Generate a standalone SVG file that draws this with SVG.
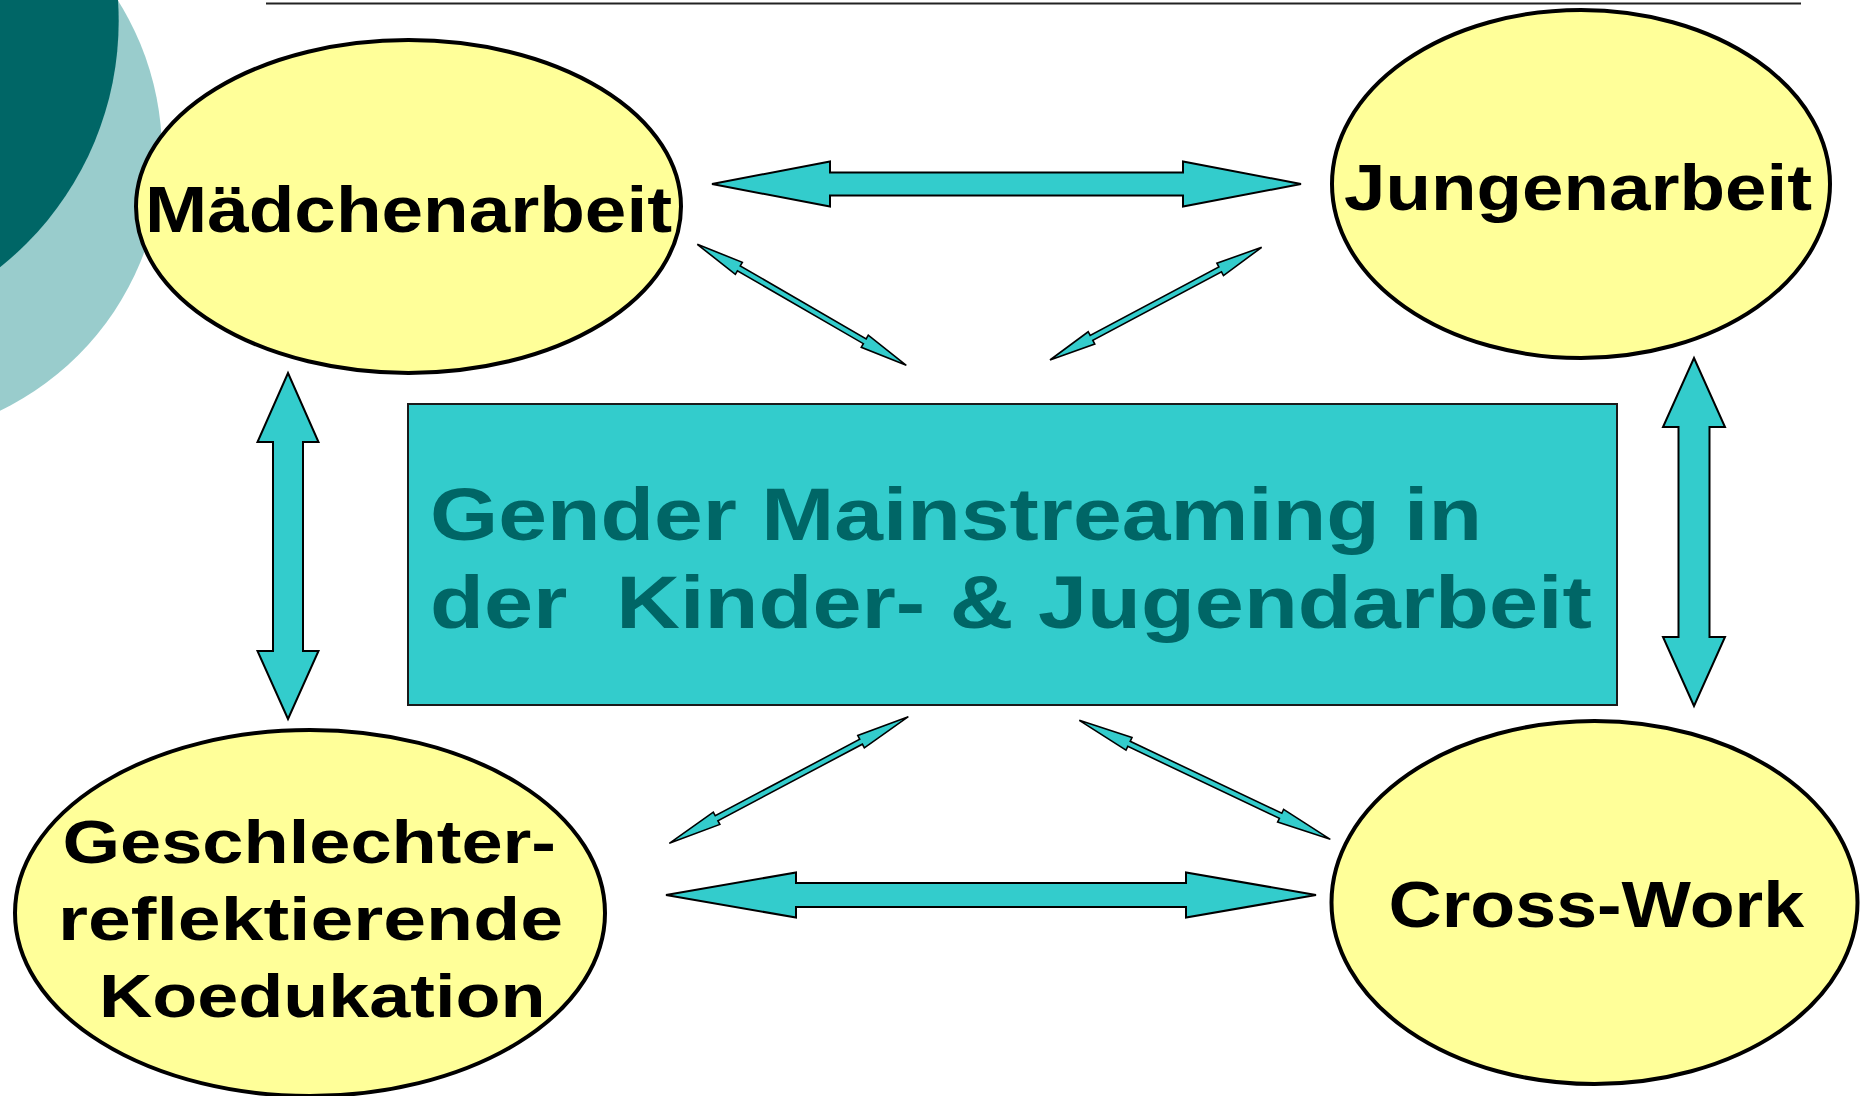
<svg xmlns="http://www.w3.org/2000/svg" width="1862" height="1096" viewBox="0 0 1862 1096">
<style>
.bg{fill:#ffffff}
.node ellipse{fill:#FFFF99;stroke:#000000;stroke-width:4}
.lbl{font-family:"Liberation Sans",Arial,sans-serif;font-weight:bold;fill:#000000}
.center{fill:#33CCCC;stroke:#1a1a1a;stroke-width:2}
.ctext{font-family:"Liberation Sans",Arial,sans-serif;font-weight:bold;fill:#006666;font-size:74px}
.arrow{fill:#33CCCC;stroke:#000000;stroke-width:2;stroke-linejoin:miter}
.thin{fill:#33CCCC;stroke:#000000;stroke-width:1.6;stroke-linejoin:miter}
</style>
<rect class="bg" x="0" y="0" width="1862" height="1096"/>
<g id="decoration">
<circle cx="-124" cy="153" r="286" fill="#99CCCC"/>
<circle cx="-196" cy="21" r="314.7" fill="#006666"/>
<line x1="266" y1="3.5" x2="1801" y2="3.5" stroke="#222222" stroke-width="2"/>
</g>
<g id="connectors">
<polygon class="arrow" points="712,184 830,161.5 830,172.5 1183,172.5 1183,161.5 1301,184 1183,206.5 1183,195.5 830,195.5 830,206.5"/>
<polygon class="arrow" points="666,895 796,872.5 796,883 1186,883 1186,872.5 1316,895 1186,917.5 1186,907 796,907 796,917.5"/>
<polygon class="arrow" points="288,373 318.5,442 303,442 303,651 318.5,651 288,719 257.5,651 273,651 273,442 257.5,442"/>
<polygon class="arrow" points="1694,358 1725,427 1709.5,427 1709.5,637 1725,637 1694,706 1663,637 1678.5,637 1678.5,427 1663,427"/>
<g transform="translate(697.3,244.3) rotate(30.07)"><polygon class="thin" points="0,0 48,-7 48,-2.8 193.5,-2.8 193.5,-7 241.5,0 193.5,7 193.5,2.8 48,2.8 48,7"/></g>
<g transform="translate(1050,360) rotate(-28.03)"><polygon class="thin" points="0,0 47,-7 47,-2.8 192.8,-2.8 192.8,-7 239.8,0 192.8,7 192.8,2.8 47,2.8 47,7"/></g>
<g transform="translate(669.3,843.3) rotate(-27.91)"><polygon class="thin" points="0,0 53.5,-7 53.5,-2.8 217,-2.8 217,-7 270.5,0 217,7 217,2.8 53.5,2.8 53.5,7"/></g>
<g transform="translate(1079.3,720.3) rotate(25.37)"><polygon class="thin" points="0,0 55,-7 55,-2.8 222.8,-2.8 222.8,-7 277.8,0 222.8,7 222.8,2.8 55,2.8 55,7"/></g>
</g>
<g id="node-center">
<rect class="center" x="408" y="404" width="1209" height="301"/>
<text class="ctext" x="430" y="540" textLength="1052" lengthAdjust="spacingAndGlyphs">Gender Mainstreaming in</text>
<text class="ctext" x="430" y="628" textLength="1162" lengthAdjust="spacingAndGlyphs" xml:space="preserve">der  Kinder- &amp; Jugendarbeit</text>
</g>
<g id="node-maedchen" class="node">
<ellipse cx="408.5" cy="206.5" rx="272.5" ry="166.5"/>
<text class="lbl" x="145" y="232" font-size="64" textLength="527" lengthAdjust="spacingAndGlyphs">Mädchenarbeit</text>
</g>
<g id="node-jungen" class="node">
<ellipse cx="1581" cy="184" rx="249" ry="174"/>
<text class="lbl" x="1344" y="210" font-size="64" textLength="468" lengthAdjust="spacingAndGlyphs">Jungenarbeit</text>
</g>
<g id="node-koedukation" class="node">
<ellipse cx="310" cy="913" rx="295" ry="183"/>
<text class="lbl" x="62.5" y="863" font-size="61" textLength="493.5" lengthAdjust="spacingAndGlyphs">Geschlechter-</text>
<text class="lbl" x="58" y="940" font-size="61" textLength="505" lengthAdjust="spacingAndGlyphs">reflektierende</text>
<text class="lbl" x="99" y="1017" font-size="61" textLength="446.5" lengthAdjust="spacingAndGlyphs">Koedukation</text>
</g>
<g id="node-crosswork" class="node">
<ellipse cx="1594.5" cy="902.5" rx="263" ry="181.5"/>
<text class="lbl" x="1388.6" y="927" font-size="64" textLength="415.5" lengthAdjust="spacingAndGlyphs">Cross-Work</text>
</g>
</svg>
